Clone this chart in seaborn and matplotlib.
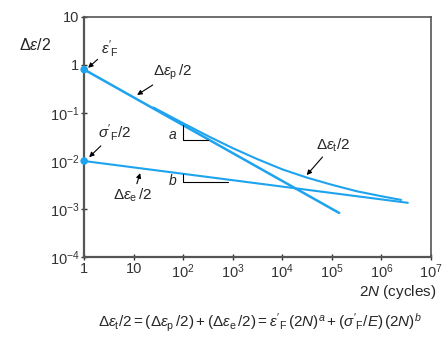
import matplotlib
matplotlib.use("Agg")
import matplotlib.pyplot as plt
import seaborn as sns

# strain-life curve, values
plastic_N = [1, 1.4e5]
plastic_eps = [0.8, 8.3e-4]
elastic_N = [1, 3.4e6]
elastic_eps = [0.01, 1.35e-3]
total_N = [25, 100, 316, 1e3, 3.16e3, 1e4, 3.16e4, 1e5, 3.16e5, 1e6, 2.5e6]
total_eps = [0.13, 0.061, 0.033, 0.0185, 0.0109, 0.0067, 0.0045, 0.0032,
             0.00235, 0.00185, 0.00155]
start_N = [1, 1]
start_eps = [0.8, 0.01]

x_ticks = [1, 10, 1e2, 1e3, 1e4, 1e5, 1e6, 1e7]
x_labels = ["1", "10", "$10^2$", "$10^3$", "$10^4$", "$10^5$", "$10^6$", "$10^7$"]
y_ticks = [1e-4, 1e-3, 1e-2, 1e-1, 1, 10]
y_labels = ["$10^{-4}$", "$10^{-3}$", "$10^{-2}$", "$10^{-1}$", "1", "10"]

sns.set_style("white")
plt.rcParams['font.family'] = ['Liberation Sans', 'DejaVu Sans']
plt.rcParams['mathtext.fontset'] = 'custom'
plt.rcParams['mathtext.rm'] = 'Liberation Sans'
plt.rcParams['mathtext.it'] = 'Liberation Sans:italic'

blue = '#1ea3ee'
fig = plt.figure(figsize=(4.43, 3.37), dpi=100)
ax = fig.add_axes([0.19, 0.237, 0.783, 0.713])

sns.lineplot(x=plastic_N, y=plastic_eps, ax=ax, color=blue, lw=1.8)
sns.lineplot(x=elastic_N, y=elastic_eps, ax=ax, color=blue, lw=1.5)
sns.lineplot(x=total_N, y=total_eps, ax=ax, color=blue, lw=1.5)
sns.scatterplot(x=start_N, y=start_eps, ax=ax, color=blue, s=30,
                edgecolor='none', clip_on=False, zorder=5)

ax.set_xscale('log')
ax.set_yscale('log')
ax.set_xlim(1, 1e7)
ax.set_ylim(1e-4, 10)
ax.set_xticks(x_ticks)
ax.set_xticklabels(x_labels)
ax.set_yticks(y_ticks)
ax.set_yticklabels(y_labels)
ax.minorticks_off()
ax.tick_params(direction='inout', length=5, width=1, labelsize=10.5, pad=1,
               left=True, bottom=True, colors='#333333')
for s in ax.spines.values():
    s.set_color('#555555')
    s.set_linewidth(1.2)
ax.spines['left'].set_linewidth(1.6)
ax.spines['bottom'].set_linewidth(1.6)

# slope triangles
ax.plot([100, 100, 320], [0.055, 0.027, 0.027], color='k', lw=0.8)
ax.plot([100, 100, 800], [0.0054, 0.0037, 0.0037], color='k', lw=0.8)
ax.text(62, 0.035, "$a$", fontsize=10, ha='center', va='center')
ax.text(62, 0.004, "$b$", fontsize=10, ha='center', va='center')

arr = dict(arrowstyle='-|>', color='k', lw=0.8, mutation_scale=7, shrinkA=0, shrinkB=0)
fs = 11
ax.annotate(r"$\varepsilon'_{\rm F}$", xy=(1.2, 0.87), xytext=(3.3, 2.2),
            fontsize=fs, ha='center', va='center', arrowprops=arr)
ax.annotate(r"$\Delta\varepsilon_{\rm p}\,/2$", xy=(11.7, 0.237), xytext=(62, 0.71),
            fontsize=fs, ha='center', va='center', arrowprops=arr)
ax.annotate(r"$\sigma'_{\rm F}/2$", xy=(1.26, 0.012), xytext=(4.2, 0.04),
            fontsize=fs, ha='center', va='center', arrowprops=arr)
ax.annotate(r"$\Delta\varepsilon_{\rm e}\,/2$", xy=(13.5, 0.0056), xytext=(9.7, 0.0019),
            fontsize=fs, ha='center', va='center', arrowprops=arr)
ax.annotate(r"$\Delta\varepsilon_{\rm t}/2$", xy=(3.1e4, 0.0051), xytext=(1.05e5, 0.0215),
            fontsize=fs, ha='center', va='center', arrowprops=arr)

fig.text(0.079, 0.866, r"$\Delta\varepsilon/2$", fontsize=11.5, ha='center', va='center')
fig.text(0.986, 0.134, r"$2N$ (cycles)", fontsize=11, ha='right', va='center')
fig.text(0.587, 0.041,
         r"$\Delta\varepsilon_{\rm t}/2 = (\Delta\varepsilon_{\rm p}\,/2) + (\Delta\varepsilon_{\rm e}\,/2)"
         r" = \varepsilon'_{\rm F}\,(2N)^a + (\sigma'_{\rm F}/E)\,(2N)^b$",
         fontsize=11, ha='center', va='center')

fig.savefig('out.png', dpi=100)
